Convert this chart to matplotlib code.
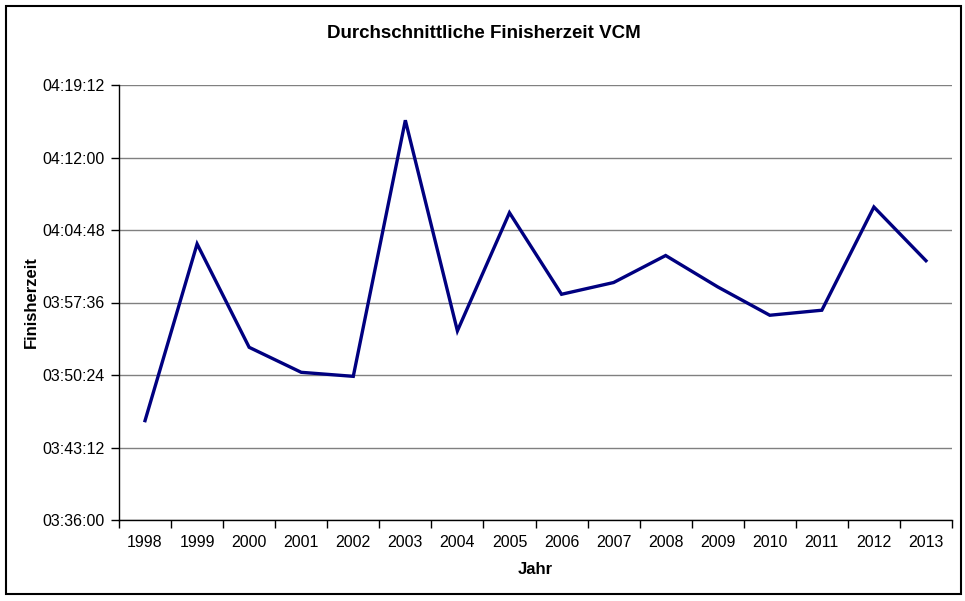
import matplotlib
matplotlib.use("Agg")
import matplotlib.pyplot as plt
from matplotlib.ticker import FuncFormatter, FixedLocator
from matplotlib.patches import Rectangle

years = ["1998", "1999", "2000", "2001", "2002", "2003", "2004", "2005",
         "2006", "2007", "2008", "2009", "2010", "2011", "2012", "2013"]
times = ["03:45:52", "04:03:25", "03:53:09", "03:50:40", "03:50:16", "04:15:42",
         "03:54:47", "04:06:31", "03:58:25", "03:59:35", "04:02:16", "03:59:09",
         "03:56:20", "03:56:50", "04:07:05", "04:01:45"]
y_ticks = ["03:36:00", "03:43:12", "03:50:24", "03:57:36", "04:04:48", "04:12:00", "04:19:12"]


def to_sec(s):
    h, m, sec = s.split(":")
    return int(h) * 3600 + int(m) * 60 + int(sec)


def fmt(v, pos=None):
    v = int(round(v))
    return f"{v // 3600:02d}:{(v % 3600) // 60:02d}:{v % 60:02d}"


vals = [to_sec(t) for t in times]
yt = [to_sec(t) for t in y_ticks]
x = list(range(len(years)))

plt.rcParams['font.family'] = ['Liberation Sans', 'DejaVu Sans']

fig = plt.figure(figsize=(9.65, 6.01), dpi=100)
fig.patch.set_facecolor("white")
ax = fig.add_axes([119 / 965, 81 / 601, (952 - 119) / 965, (520 - 85) / 601])

ax.plot(x, vals, color="#000080", lw=2.4, solid_joinstyle="miter", zorder=3)

ax.set_xlim(-0.5, len(years) - 0.5)
ax.set_ylim(yt[0], yt[-1])
ax.yaxis.set_major_locator(FixedLocator(yt))
ax.yaxis.set_major_formatter(FuncFormatter(fmt))
ax.yaxis.grid(True, color="#808080", lw=1.0)
ax.set_axisbelow(True)

ax.set_xticks(x)
ax.set_xticklabels(years)
ax.set_xticks([i - 0.5 for i in range(len(years) + 1)], minor=True)
ax.tick_params(axis="x", which="major", length=0, pad=11, labelsize=11.5)
ax.tick_params(axis="x", which="minor", length=6, width=1, direction="out", color="black")
ax.tick_params(axis="y", length=6, width=1, direction="out", pad=4, labelsize=11.5)

for s in ["top", "right"]:
    ax.spines[s].set_visible(False)
for s in ["left", "bottom"]:
    ax.spines[s].set_color("black")
    ax.spines[s].set_linewidth(1)

fig.text(484 / 965, 1 - 33 / 601, "Durchschnittliche Finisherzeit VCM",
         ha="center", va="center", fontsize=13.5, fontweight="bold")
fig.text(535 / 965, 1 - 570 / 601, "Jahr", ha="center", va="center",
         fontsize=12, fontweight="bold")
fig.text(31 / 965, 1 - 302 / 601, "Finisherzeit", ha="center", va="center",
         fontsize=12, fontweight="bold", rotation=90)

fig.add_artist(Rectangle((6 / 965, 1 - 594 / 601), (961 - 6) / 965, (594 - 6) / 601,
                         transform=fig.transFigure, fill=False, edgecolor="black", lw=1.5))

fig.savefig("out.png", dpi=100, facecolor="white")
